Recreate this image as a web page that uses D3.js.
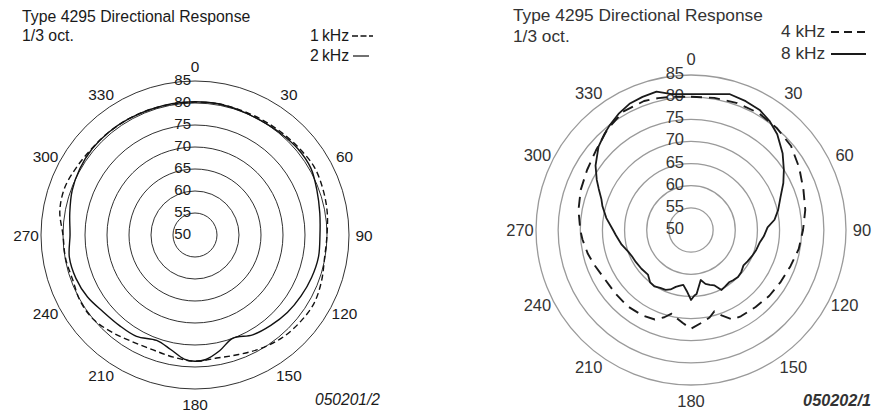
<!DOCTYPE html>
<html>
<head>
<meta charset="utf-8">
<script src="https://cdn.jsdelivr.net/npm/d3@7"></script>
<style>
html, body { margin: 0; padding: 0; background: #fff; }
svg { display: block; font-family: "Liberation Sans", Arial, Helvetica, sans-serif; }
</style>
</head>
<body>
<svg id="chart" width="872" height="412"></svg>
<script>
// ---------- data ----------
const titleText = "Type 4295 Directional Response";
const subtitleText = "1/3 oct.";
const angleTicks = [0, 30, 60, 90, 120, 150, 180, 210, 240, 270, 300, 330];
const ringTicks = [85, 80, 75, 70, 65, 60, 55];
const ringLabels = [85, 80, 75, 70, 65, 60, 55, 50];
const dbDomain = [50, 85];

// left chart: 1 kHz (dashed) and 2 kHz (solid)
const leftSeriesNames = ["1\u2009kHz", "2\u2009kHz"];
const angles1k = [0,10,20,30,40,50,60,70,80,90,100,110,120,130,140,150,160,170,180,190,200,210,220,230,240,250,260,270,280,290,300,310,320,330,340,350];
const db1k = [80.2,80.3,80.2,80.3,80.5,80.8,81.2,80.9,80.5,80.0,79.9,80.6,81.2,81.0,80.6,79.8,78.9,78.4,78.7,78.2,77.8,78.1,79.0,80.0,80.1,79.6,79.9,80.0,81.2,81.5,81.0,80.6,80.5,80.4,80.3,80.2];
const angles2k = [0,10,20,30,40,50,60,70,80,90,100,110,120,130,140,150,160,168,175,180,185,192,200,210,220,230,240,250,260,270,280,290,300,310,320,330,340,350];
const db2k = [80.3,80.3,80.1,80.0,80.2,80.5,80.4,79.5,78.8,78.4,78.5,78.2,77.8,77.4,76.8,76.2,75.0,76.9,78.4,78.7,78.3,76.6,75.5,76.6,76.8,77.2,78.2,78.8,79.0,78.4,78.9,79.7,80.2,80.5,80.5,80.4,80.3,80.3];
const leftCode = "050201/2";

// right chart: 4 kHz (dashed) and 8 kHz (solid)
const rightSeriesNames = ["4 kHz", "8 kHz"];
const angles4k = [0,10,20,30,40,50,60,70,80,90,100,110,120,130,140,150,155,160,164,168,173,180,185,189,193,197,202,210,220,230,240,250,257,265,270,280,290,300,310,320,330,340,346,352];
const db4k = [80.1,80.3,80.5,80.5,80.1,79.5,78.2,77.0,76.2,75.3,74.7,73.9,73.4,73.1,72.7,72.5,72.3,70.6,69.1,70.2,71.0,72.3,71.1,70.2,69.4,70.6,71.8,72.2,72.4,72.3,72.4,73.2,73.9,74.6,75.0,75.8,76.5,77.1,78.0,79.5,80.8,81.0,80.7,80.4];
const angles8k = [0,8,16,23,30,36,42,50,57,63,70,77,83,88,95,100,107,113,119,124,130,135,140,144,149,153,157,161,165,169,172,175,177,180,184,188,192,195,199,203,208,213,218,224,232,240,246,251,258,266,270,278,285,289,294,298,304,312,318,322,328,334,340,346,352];
const db8k = [80.7,81.0,81.9,81.6,81.2,80.3,79.1,77.0,75.0,73.4,71.5,70.2,69.0,67.3,66.5,65.8,65.4,65.0,64.6,64.3,64.8,65.0,64.8,64.6,64.9,65.2,63.6,63.1,62.6,61.5,62.8,64.5,64.8,65.8,63.8,62.5,62.9,63.3,64.2,64.7,64.8,65.2,65.0,64.0,64.2,64.4,64.6,65.0,66.0,67.0,67.6,69.3,70.7,71.4,72.8,74.1,76.0,78.1,79.2,79.9,80.9,81.7,82.0,82.2,81.0];
const rightCode = "050202/1";

// ---------- drawing ----------
const svg = d3.select("#chart");
const toRad = d => d * Math.PI / 180;
const zip = (a, v) => a.map((ang, i) => ({ a: ang, v: v[i] }));

function drawPolar(cfg) {
  const g = svg.append("g").attr("transform", `translate(${cfg.cx},${cfg.cy})`);
  const r = d3.scaleLinear().domain(dbDomain).range([0, cfg.R]);

  g.selectAll("circle.ring").data(ringTicks).join("circle")
    .attr("class", "ring")
    .attr("r", d => r(d))
    .attr("fill", "none")
    .attr("stroke", cfg.ringColor)
    .attr("stroke-width", cfg.ringWidth);

  g.selectAll("text.rl").data(ringLabels).join("text")
    .attr("class", "rl")
    .attr("x", cfg.ringLabelX)
    .attr("y", d => -r(d) + cfg.ringLabelDy)
    .attr("text-anchor", "end")
    .attr("dominant-baseline", "central")
    .attr("font-size", cfg.ringLabelSize)
    .attr("fill", cfg.textColor)
    .text(d => d);

  g.selectAll("text.al").data(angleTicks).join("text")
    .attr("class", "al")
    .each(function (t) {
      const m = t % 180;
      let shift = 0;
      if (m !== 0 && m !== 90) {
        const phi = toRad(Math.min(m, 180 - m));
        const mag = cfg.warp * Math.sin(2 * phi) * Math.cos(phi);
        shift = (m < 90 ? 1 : -1) * mag;
      }
      const th = toRad(t + shift);
      d3.select(this)
        .attr("x", cfg.labelR * Math.sin(th))
        .attr("y", -cfg.labelR * Math.cos(th));
    })
    .attr("text-anchor", "middle")
    .attr("dominant-baseline", "central")
    .attr("font-size", cfg.labelSize)
    .attr("fill", cfg.textColor)
    .text(d => d);

  cfg.series.forEach(s => {
    const line = d3.lineRadial()
      .angle(d => toRad(d.a))
      .radius(d => r(d.v))
      .curve(cfg.curve);
    g.append("path")
      .datum(zip(s.angles, s.values))
      .attr("d", line)
      .attr("fill", "none")
      .attr("stroke", cfg.lineColor)
      .attr("stroke-width", s.width)
      .attr("stroke-linejoin", "round")
      .attr("stroke-dasharray", s.dash || null);
  });

  svg.append("text").attr("x", cfg.titleX).attr("y", cfg.titleY)
    .attr("font-size", cfg.titleSize).attr("fill", cfg.textColor).text(titleText);
  svg.append("text").attr("x", cfg.titleX).attr("y", cfg.subY)
    .attr("font-size", cfg.titleSize).attr("fill", cfg.textColor).text(subtitleText);

  cfg.series.forEach((s, i) => {
    const ly = cfg.legendY[i];
    svg.append("text").attr("x", cfg.legendX).attr("y", ly)
      .attr("font-size", cfg.titleSize).attr("fill", cfg.textColor).text(s.name);
    svg.append("line")
      .attr("x1", s.legendLine[0]).attr("x2", s.legendLine[1])
      .attr("y1", ly - cfg.legendLineDy).attr("y2", ly - cfg.legendLineDy)
      .attr("stroke", cfg.lineColor)
      .attr("stroke-width", s.legendWidth)
      .attr("stroke-dasharray", s.legendDash || null);
  });

  svg.append("text").attr("x", cfg.codeX).attr("y", cfg.codeY)
    .attr("text-anchor", cfg.codeAnchor)
    .attr("font-size", cfg.codeSize).attr("font-style", "italic")
    .attr("font-weight", cfg.codeWeight)
    .attr("fill", cfg.textColor).text(cfg.code);
}

drawPolar({
  cx: 195, cy: 235, R: 154,
  ringColor: "#1a1a1a", ringWidth: 0.9,
  ringLabelX: -4, ringLabelDy: -1.5, ringLabelSize: 15,
  labelSize: 15.4, labelR: 169, warp: 5,
  textColor: "#1a1a1a", lineColor: "#111",
  curve: d3.curveCatmullRomClosed,
  series: [
    { name: leftSeriesNames[0], angles: angles1k, values: db1k, width: 1.4, dash: "6,3.5", legendWidth: 1.3, legendDash: "6,2.5", legendLine: [352, 373] },
    { name: leftSeriesNames[1], angles: angles2k, values: db2k, width: 1.4, legendWidth: 1.2, legendLine: [353, 369] }
  ],
  titleX: 22, titleY: 22, subY: 41, titleSize: 15.8,
  legendX: 310, legendY: [41, 61], legendLineDy: 5,
  code: leftCode, codeX: 315, codeY: 405, codeAnchor: "start", codeSize: 15.6, codeWeight: "normal"
});

drawPolar({
  cx: 691, cy: 230, R: 155,
  ringColor: "#9a9a9a", ringWidth: 1.3,
  ringLabelX: -7, ringLabelDy: -2, ringLabelSize: 16.5,
  labelSize: 16.5, labelR: 171, warp: 9,
  textColor: "#333", lineColor: "#1a1a1a",
  curve: d3.curveLinearClosed,
  series: [
    { name: rightSeriesNames[0], angles: angles4k, values: db4k, width: 1.9, dash: "11,7", legendWidth: 1.8, legendDash: "8,5", legendLine: [831, 866] },
    { name: rightSeriesNames[1], angles: angles8k, values: db8k, width: 1.8, legendWidth: 1.8, legendLine: [831, 866] }
  ],
  titleX: 513, titleY: 21, subY: 42, titleSize: 17.3,
  legendX: 781, legendY: [37, 59], legendLineDy: 5,
  code: rightCode, codeX: 871, codeY: 406, codeAnchor: "end", codeSize: 16.3, codeWeight: "bold"
});
</script>
</body>
</html>
